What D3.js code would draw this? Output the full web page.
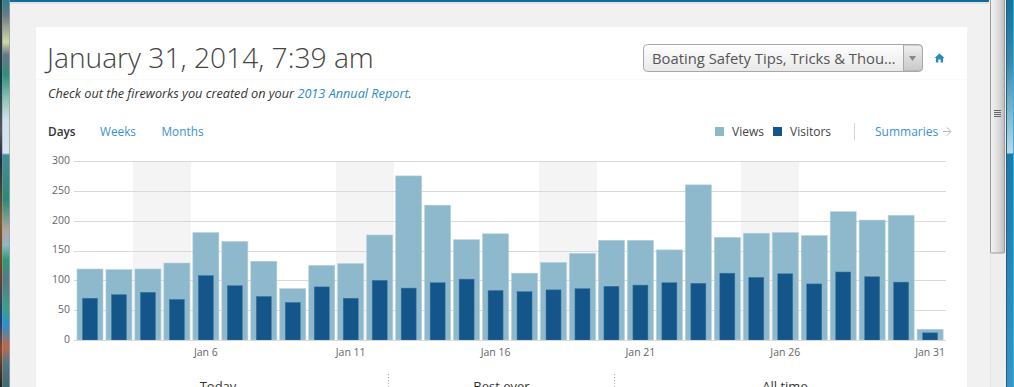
<!DOCTYPE html>
<html><head><meta charset="utf-8">
<script src="https://cdn.jsdelivr.net/npm/d3@7/dist/d3.min.js"></script>
<style>
html,body{margin:0;padding:0;background:#f1f1f1;overflow:hidden}
svg{display:block;font-family:"Open Sans",sans-serif}
</style></head><body><svg id="c" width="1014" height="387"></svg>
<script>
const days = d3.range(2, 32);
const views = [119,118,119,129,180,165,132,86,125,128,176,275,226,168,178,112,130,145,167,167,151,260,172,179,180,175,215,201,209,18];
const visitors = [70,76,80,68,108,91,73,63,89,70,100,87,96,102,83,81,84,86,90,92,96,95,112,105,111,94,114,106,97,12];
const weekendStarts = [4,11,18,25];
const yTicks = [0,50,100,150,200,250,300];
const xTickDays = [6,11,16,21,26,31];
const tabs = ["Days","Weeks","Months"];
const stats = ["Today","Best ever","All time"];
const seriesNames = ["Views","Visitors"];
const seriesColors = ["#8eb8cc","#14568a"];

const svg = d3.select("#c");
const x = d3.scaleBand().domain(days).range([75.5,944.6]);
const y = d3.scaleLinear().domain([0,300]).range([340,161]);
const defs = svg.append("defs");
function grad(id, dir, stops){
  const g = defs.append("linearGradient").attr("id",id).attr("x1",0).attr("y1",0)
    .attr("x2",dir==="h"?1:0).attr("y2",dir==="h"?0:1);
  stops.forEach(s=>g.append("stop").attr("offset",s[0]).attr("stop-color",s[1]));
}
grad("sel","v",[[0,"#ffffff"],[1,"#e8e8e8"]]);
grad("btn","v",[[0,"#efefef"],[1,"#c8c8c8"]]);
const h = 387;
grad("deskIn","v",[[0,"#2a7f90"],[15/h,"#6a7a85"],[42/h,"#cfd8a8"],[55/h,"#667788"],[75/h,"#2f8f78"],[100/h,"#90c8b8"],[120/h,"#d0e0ee"],[153/h,"#d8e6f2"],[155/h,"#3f8f98"],[200/h,"#2a8a78"],[230/h,"#b0a8a0"],[245/h,"#8fb8cc"],[260/h,"#2a9a7a"],[280/h,"#557a88"],[308/h,"#3aa088"],[325/h,"#2a90d0"],[347/h,"#c06848"],[362/h,"#557788"],[1,"#3d6a70"]]);
grad("deskOut","v",[[0,"#123c34"],[30/h,"#3a3a3e"],[80/h,"#0f3c44"],[130/h,"#555558"],[160/h,"#202a40"],[220/h,"#7a5a2a"],[270/h,"#74401f"],[320/h,"#15407a"],[350/h,"#8a4a28"],[1,"#222222"]]);
grad("sb","h",[[0,"#f2f2f2"],[.55,"#dedede"],[1,"#bcbcbc"]]);
grad("edge","v",[[0,"#1a7098"],[60/h,"#3a86a8"],[153/h,"#bcd8e4"],[154/h,"#1f7aa8"],[1,"#3a93c3"]]);

// window chrome
svg.append("rect").attr("x",0).attr("y",0).attr("width",2.5).attr("height",387).attr("fill","url(#deskOut)");
svg.append("rect").attr("x",2.5).attr("y",0).attr("width",7).attr("height",387).attr("fill","url(#deskIn)");
svg.append("rect").attr("x",9.5).attr("y",0).attr("width",.5).attr("height",387).attr("fill","#777");
svg.append("rect").attr("x",10).attr("y",0).attr("width",979).attr("height",2).attr("fill","#116c9a");
svg.append("rect").attr("x",10).attr("y",2).attr("width",979).attr("height",2).attr("fill","#dfe3e4");
svg.append("rect").attr("x",990).attr("y",0).attr("width",16).attr("height",387).attr("fill","#eeeeee");
svg.append("rect").attr("x",990).attr("y",0).attr("width",1).attr("height",387).attr("fill","#e2e2e2");
svg.append("rect").attr("x",990.5).attr("y",-2).attr("width",14).attr("height",255).attr("rx",1).attr("fill","url(#sb)").attr("stroke","#9a9a9a");
[110,112,114,116].forEach(v=>svg.append("rect").attr("x",994).attr("y",v).attr("width",7).attr("height",1).attr("fill","#666"));
svg.append("rect").attr("x",1006).attr("y",0).attr("width",1).attr("height",387).attr("fill","#1a5f80");
svg.append("rect").attr("x",1007).attr("y",0).attr("width",6).attr("height",387).attr("fill","url(#edge)");
svg.append("rect").attr("x",1013).attr("y",0).attr("width",1).attr("height",387).attr("fill","#26b4ee");

// card
svg.append("rect").attr("x",36).attr("y",27).attr("width",931).attr("height",360).attr("fill","#fff");
svg.append("rect").attr("x",36).attr("y",79).attr("width",931).attr("height",1).attr("fill","#f9f9f9");

svg.append("text").attr("x",47).attr("y",68).attr("font-size",28.2).attr("font-weight",300).attr("fill","#444").text("January 31, 2014, 7:39 am");
const note = svg.append("text").attr("x",48).attr("y",98).attr("font-size",12.7).attr("font-style","italic").attr("fill","#333");
note.append("tspan").text("Check out the fireworks you created on your ");
note.append("tspan").attr("fill","#2e8bc0").text("2013 Annual Report");
note.append("tspan").text(".");

// dropdown
svg.append("rect").attr("x",643.5).attr("y",44.5).attr("width",279).attr("height",27).attr("rx",4).attr("fill","url(#sel)").attr("stroke","#a8a8a8");
svg.append("path").attr("d","M903.5 45V71H918a4 4 0 0 0 4.5-4V49a4 4 0 0 0-4.5-4Z").attr("fill","url(#btn)").attr("stroke","#a8a8a8");
svg.append("path").attr("d","M909 56h7l-3.5 5Z").attr("fill","#888");
svg.append("text").attr("x",652).attr("y",64).attr("font-size",14.8).attr("fill","#555").text("Boating Safety Tips, Tricks & Thou…");
svg.append("path").attr("d","M939.5 53.5L934.5 58H936V62.5H938.3V59.5H940.7V62.5H943V58H944.5Z").attr("fill","#2a8ac0");

// tabs
const tabX = [48,100,161.5];
svg.selectAll("text.tab").data(tabs).join("text").attr("class","tab")
 .attr("x",(d,i)=>tabX[i]).attr("y",136).attr("font-size",11.8)
 .attr("font-weight",(d,i)=>i?400:600).attr("fill",(d,i)=>i?"#3a92cc":"#333").text(d=>d);

// legend
const legX = [715,773], legTx = [732,790];
seriesNames.forEach((n,i)=>{
  svg.append("rect").attr("x",legX[i]).attr("y",127).attr("width",9).attr("height",9).attr("fill",seriesColors[i]);
  svg.append("text").attr("x",legTx[i]).attr("y",136).attr("font-size",12).attr("fill","#444").text(n);
});
svg.append("rect").attr("x",854).attr("y",123).attr("width",1).attr("height",17).attr("fill","#d5d5d5");
svg.append("text").attr("x",875).attr("y",136).attr("font-size",12).attr("fill","#3a92cc").text("Summaries");
svg.append("path").attr("d","M943 131.5H950.5M947 127.5L951 131.5L947 135.5").attr("fill","none").attr("stroke","#b5b5b5");

// weekend bands
svg.selectAll("rect.we").data(weekendStarts).join("rect").attr("class","we")
 .attr("x",d=>Math.floor(x(d))).attr("y",y(300)).attr("width",Math.ceil(x.step()*2)).attr("height",y(0)-y(300)).attr("fill","#f4f4f4");

// grid lines and y axis
const yAxis = d3.axisLeft(y).tickValues(yTicks).tickSize(0).tickPadding(4);
const gy = svg.append("g").attr("transform","translate(74,-1)").call(yAxis);
gy.select(".domain").remove();
gy.selectAll("text").attr("font-family","'Open Sans',sans-serif").attr("font-size",10.5).attr("fill","#666");
svg.selectAll("line.grid").data(yTicks).join("line").attr("class","grid")
 .attr("x1",74).attr("x2",946).attr("y1",d=>Math.round(y(d))+.5).attr("y2",d=>Math.round(y(d))+.5)
 .attr("stroke","#d9d9d9");

// bars
const vw = 26, uw = 15;
svg.selectAll("rect.v").data(days).join("rect").attr("class","v")
 .attr("x",d=>x(d)+x.bandwidth()/2-vw/2).attr("width",vw)
 .attr("y",(d,i)=>y(views[i])).attr("height",(d,i)=>y(0)-y(views[i]))
 .attr("fill",seriesColors[0]).attr("stroke","#b4cfdc").attr("stroke-width",.6);
svg.selectAll("rect.u").data(days).join("rect").attr("class","u")
 .attr("x",d=>x(d)+x.bandwidth()/2-uw/2).attr("width",uw)
 .attr("y",(d,i)=>y(visitors[i])).attr("height",(d,i)=>y(0)-y(visitors[i]))
 .attr("fill",seriesColors[1]).attr("stroke","#3f77a0").attr("stroke-width",.5);
svg.append("line").attr("x1",74).attr("x2",946).attr("y1",340.5).attr("y2",340.5).attr("stroke","#d9d9d9");

// x axis
const xAxis = d3.axisBottom(x).tickValues(xTickDays).tickFormat(d=>"Jan "+d).tickSize(0).tickPadding(9);
const gx = svg.append("g").attr("transform","translate(0,340)").call(xAxis);
gx.select(".domain").remove();
gx.selectAll("text").attr("font-family","'Open Sans',sans-serif").attr("font-size",10.5).attr("fill","#666");

// stats row (clipped by the window bottom, as in the reference)
const statX = [218,501.5,785];
svg.selectAll("text.st").data(stats).join("text").attr("class","st")
 .attr("x",(d,i)=>statX[i]).attr("y",391).attr("text-anchor","middle").attr("font-size",13).attr("fill","#333").text(d=>d);
[388.5,614.5].forEach(v=>svg.append("line").attr("x1",v).attr("x2",v).attr("y1",374).attr("y2",387).attr("stroke","#aaa").attr("stroke-dasharray","1 2"));
</script></body></html>
